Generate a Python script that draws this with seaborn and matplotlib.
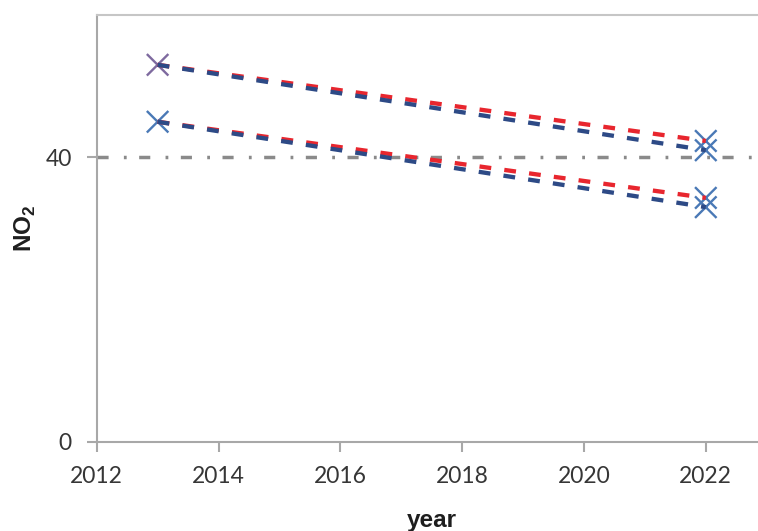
import matplotlib
matplotlib.use("Agg")
import matplotlib.pyplot as plt
import pandas as pd
import seaborn as sns

# NO2 projections for two monitoring sites, two scenarios each
years = [2013, 2022]
high_site_red = [53.0, 42.3]
high_site_blue = [53.0, 41.0]
low_site_red = [45.0, 34.3]
low_site_blue = [45.0, 33.0]

# measured / modelled points shown as crosses
point_years = [2013, 2013, 2022, 2022, 2022, 2022]
point_values = [53.0, 45.0, 42.3, 41.0, 34.3, 33.0]
point_group = ["p", "b", "b", "b", "b", "b"]

limit_value = 40
x_ticks = [2012, 2014, 2016, 2018, 2020, 2022]
y_ticks = [0, 40]

sns.set_theme(style="white")
plt.rcParams["font.family"] = ["Lato", "DejaVu Sans"]
plt.rcParams["lines.scale_dashes"] = False
plt.rcParams["mathtext.fontset"] = "custom"
plt.rcParams["mathtext.rm"] = "Liberation Sans"
plt.rcParams["mathtext.bf"] = "Liberation Sans:bold"

lines = pd.DataFrame({
    "year": years * 4,
    "no2": high_site_red + high_site_blue + low_site_red + low_site_blue,
    "scenario": ["red"] * 2 + ["blue"] * 2 + ["red"] * 2 + ["blue"] * 2,
    "site": ["high"] * 4 + ["low"] * 4,
})
points = pd.DataFrame({"year": point_years, "no2": point_values, "grp": point_group})

fig = plt.figure(figsize=(7.58, 5.31), dpi=100)
ax = fig.add_axes([96.7 / 758, 1 - 442 / 531, 670 / 758, 427 / 531])

ax.axhline(limit_value, color="#8A8A8A", lw=2.5,
           linestyle=(0, (8, 11, 2, 9)), zorder=1)

sns.scatterplot(data=points, x="year", y="no2", hue="grp",
                palette={"p": "#7E6A9F", "b": "#4A79B6"}, marker="x",
                s=240, linewidth=1.7, legend=False, ax=ax, zorder=2)

for site in ["high", "low"]:
    for scen, col in [("red", "#E8262E"), ("blue", "#2D4A86")]:
        sub = lines[(lines.site == site) & (lines.scenario == scen)]
        sns.lineplot(data=sub, x="year", y="no2", color=col, lw=3.1,
                     linestyle=(0, (8.5, 9.5)), ax=ax, zorder=3,
                     estimator=None)

ax.set_xlim(2012, 2023)
ax.set_ylim(0, 60)
ax.set_xticks(x_ticks)
ax.set_yticks(y_ticks)

for side in ["left", "bottom"]:
    ax.spines[side].set_color("#A8A8A8")
    ax.spines[side].set_linewidth(1.5)
ax.spines["top"].set_color("#C6C6C6")
ax.spines["top"].set_linewidth(1.5)
ax.spines["right"].set_visible(False)

ax.tick_params(axis="both", direction="out", length=7, width=1.5,
               color="#A8A8A8", labelsize=16.5, labelcolor="#363636")
ax.tick_params(axis="x", pad=10.5)
ax.tick_params(axis="y", pad=11)
ax.tick_params(left=True, bottom=True)

ax.set_xlabel("year", fontsize=17.5, fontweight="bold", color="#1E1E1E",
              family="Liberation Sans")
ax.xaxis.label.set_verticalalignment("baseline")
ax.xaxis.set_label_coords(0.5, (442 - 527) / 427)

ax.set_ylabel("NO$_{\\mathregular{2}}$", fontsize=17.5, fontweight="bold",
              color="#1E1E1E", family="Liberation Sans")
ax.yaxis.label.set_verticalalignment("center")
ax.yaxis.set_label_coords((25 - 96.7) / 670, 0.5)

fig.savefig("out.png", dpi=100, facecolor="white")
